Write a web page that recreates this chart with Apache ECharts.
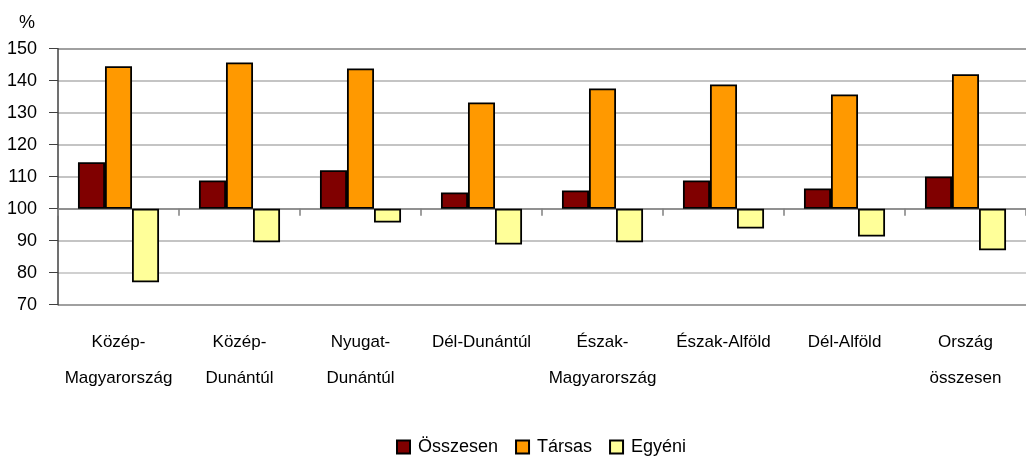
<!DOCTYPE html>
<html>
<head>
<meta charset="utf-8">
<script src="https://cdn.jsdelivr.net/npm/echarts@6/dist/echarts.min.js"></script>
<style>html,body{margin:0;padding:0;background:#fff}#c{width:1026px;height:457px}</style>
</head>
<body>
<div id="c"></div>
<script>
const categories = ['Közép-\nMagyarország','Közép-\nDunántúl','Nyugat-\nDunántúl','Dél-Dunántúl','Észak-\nMagyarország','Észak-Alföld','Dél-Alföld','Ország\nösszesen'];
const seriesNames = ['Összesen','Társas','Egyéni'];
const osszesen = [114.5, 108.8, 112.0, 105.1, 105.7, 108.8, 106.3, 110.1];
const tarsas   = [144.5, 145.7, 143.8, 133.2, 137.6, 138.8, 135.7, 142.0];
const egyeni   = [77.0, 89.5, 95.7, 88.8, 89.5, 93.8, 91.3, 87.0];
const baseValue = 100;
const yMin = 70, yMax = 150, yStep = 10;
const colors = ['#800000','#FF9900','#FFFF99'];

const font = '"Liberation Sans",Arial,sans-serif';
const chart = echarts.init(document.getElementById('c'));
const mk = (name, vals, color) => ({
  name, type: 'bar', xAxisIndex: 0, yAxisIndex: 0,
  data: vals.map(v => +(v - baseValue).toFixed(2)),
  barGap: '0%', barCategoryGap: '33%',
  itemStyle: { color, borderColor: '#000', borderWidth: 1.8 },
  emphasis: { disabled: true }
});
chart.setOption({
  animation: false,
  textStyle: { fontFamily: font },
  grid: { left: 58, width: 978, top: 48.7, bottom: 152.3, containLabel: false },
  graphic: [{ type: 'text', left: 19, top: 14, style: { text: '%', font: '18px ' + font, fill: '#000' } }],
  legend: {
    left: 391, top: 433, itemWidth: 13, itemHeight: 13, itemGap: 17,
    icon: 'rect',
    textStyle: { fontSize: 18, color: '#000', fontFamily: font, padding: [0,0,0,3] },
    data: seriesNames
  },
  xAxis: [
    { type: 'category', data: categories, position: 'bottom',
      axisLine: { onZero: true, lineStyle: { color: '#808080', width: 1.5 } },
      axisTick: { show: true, length: 7, lineStyle: { color: '#808080', width: 1.5 } },
      axisLabel: { show: false } },
    { type: 'category', data: categories, position: 'bottom', offset: 0,
      axisLine: { show: false, onZero: false }, axisTick: { show: false },
      axisLabel: { show: true, margin: 20, fontSize: 17, color: '#000', lineHeight: 36, fontFamily: font, interval: 0 } }
  ],
  yAxis: {
    type: 'value', min: yMin - baseValue, max: yMax - baseValue, interval: yStep,
    axisLine: { show: true, lineStyle: { color: '#404040', width: 1.5 } },
    axisTick: { show: true, length: 9, lineStyle: { color: '#404040', width: 1 } },
    axisLabel: { fontSize: 18, color: '#000', margin: 21, fontFamily: font, formatter: v => String(v + baseValue) },
    splitLine: { lineStyle: { color: ['#808080','#c0c0c0','#b0b0b0','#b0b0b0','#b0b0b0','#b0b0b0','#b0b0b0','#b0b0b0','#808080'], width: 1.5 } }
  },
  series: [mk(seriesNames[0], osszesen, colors[0]), mk(seriesNames[1], tarsas, colors[1]), mk(seriesNames[2], egyeni, colors[2])]
});
</script>
</body>
</html>
